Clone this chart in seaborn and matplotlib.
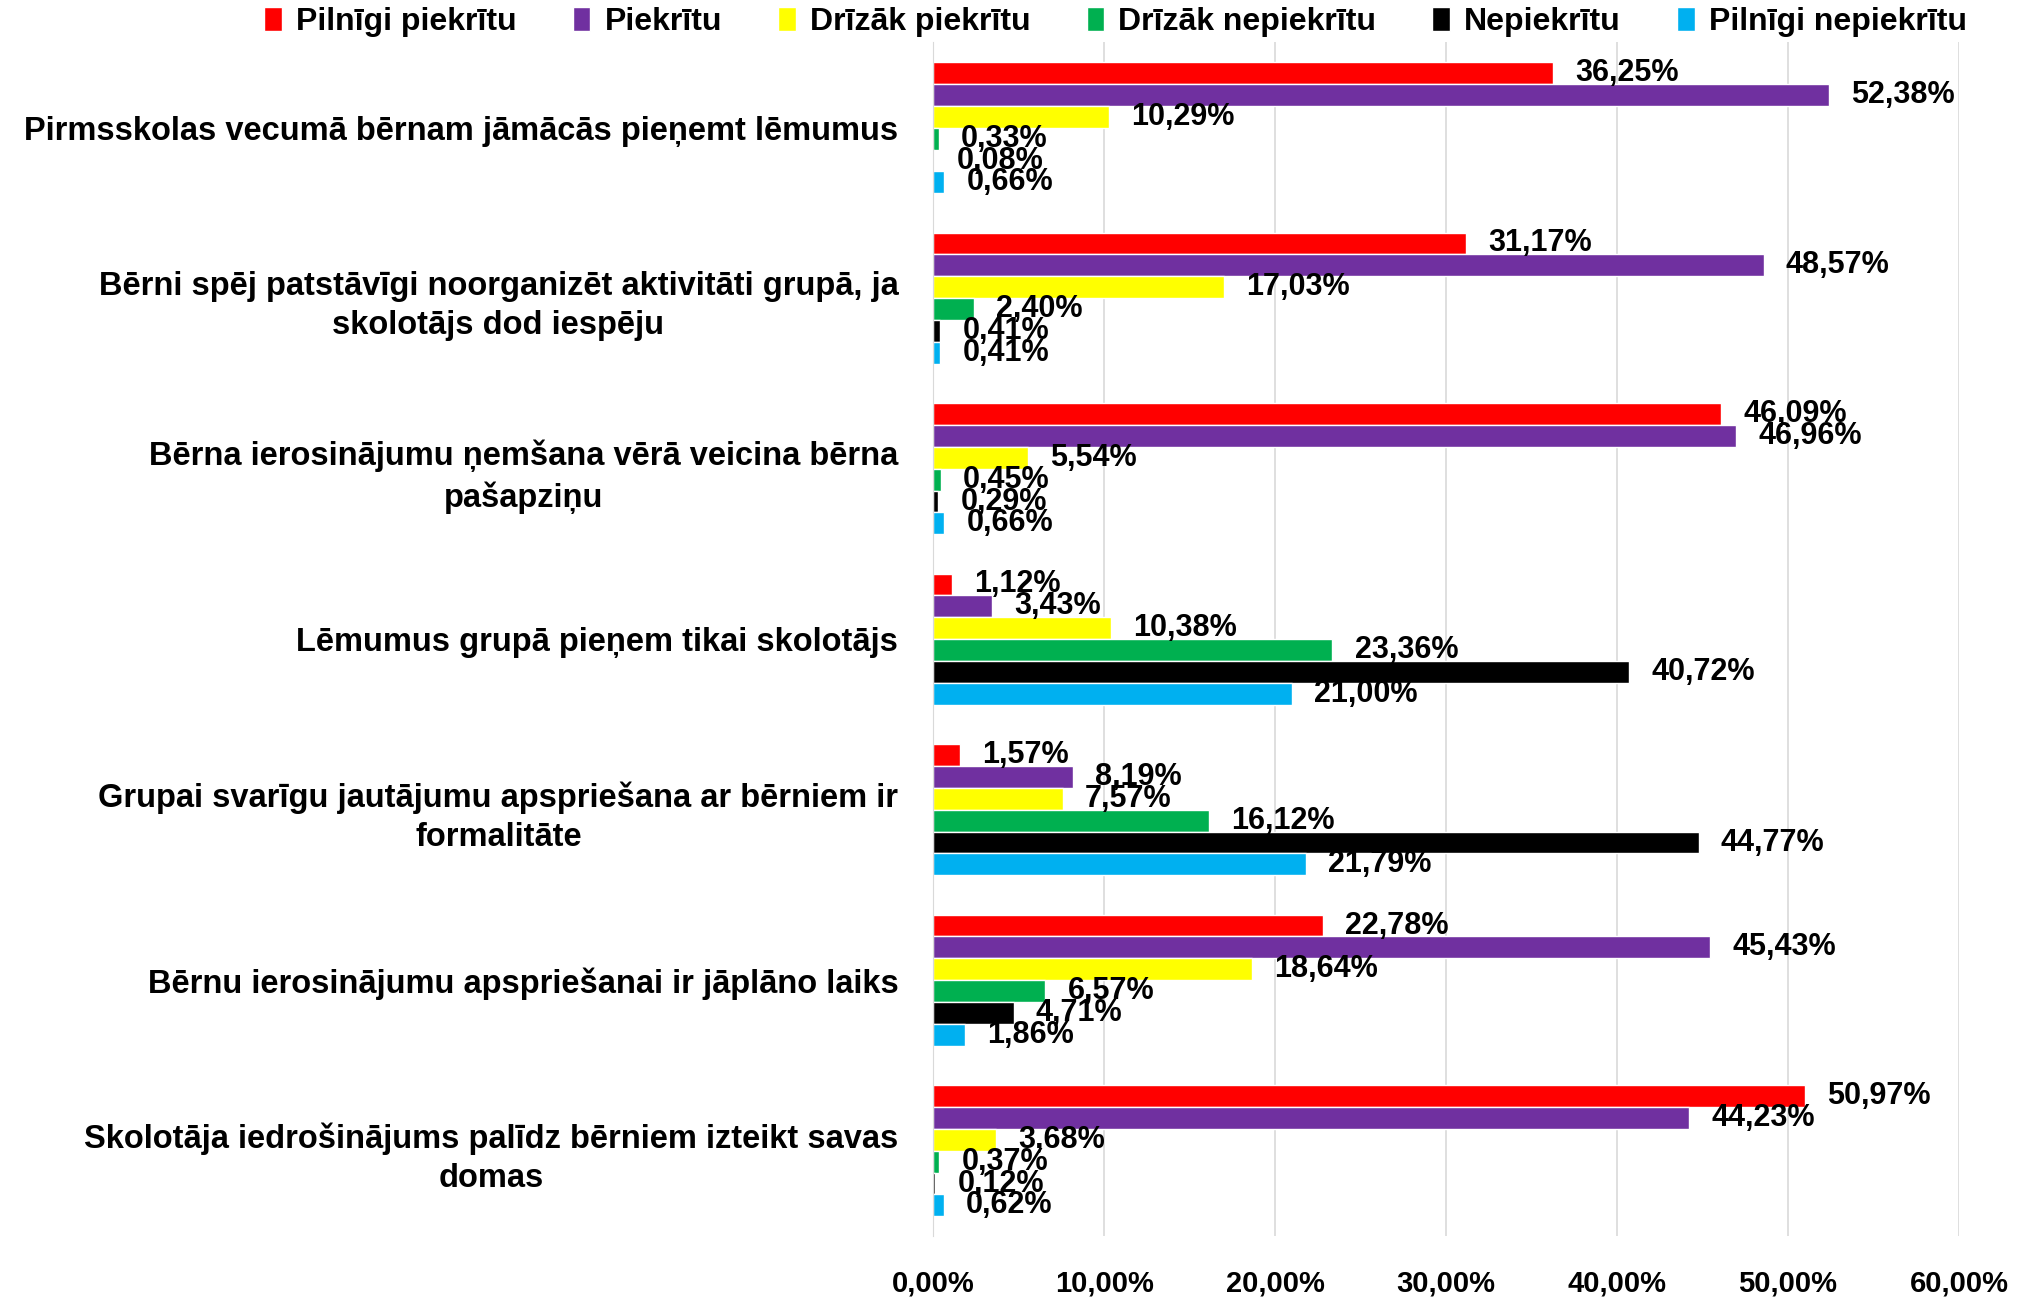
import pandas as pd
import seaborn as sns
import matplotlib.pyplot as plt

# statements (y axis)
statements = [
    "Pirmsskolas vecumā bērnam jāmācās pieņemt lēmumus",
    "Bērni spēj patstāvīgi noorganizēt aktivitāti grupā, ja\nskolotājs dod iespēju",
    "Bērna ierosinājumu ņemšana vērā veicina bērna\npašapziņu",
    "Lēmumus grupā pieņem tikai skolotājs",
    "Grupai svarīgu jautājumu apspriešana ar bērniem ir\nformalitāte",
    "Bērnu ierosinājumu apspriešanai ir jāplāno laiks",
    "Skolotāja iedrošinājums palīdz bērniem izteikt savas\ndomas",
]

answers = ["Pilnīgi piekrītu", "Piekrītu", "Drīzāk piekrītu",
           "Drīzāk nepiekrītu", "Nepiekrītu", "Pilnīgi nepiekrītu"]
colors = ["#FF0000", "#7030A0", "#FFFF00", "#00B050", "#000000", "#00B0F0"]

# percentages, one list per answer, in statement order
pilnigi_piekritu = [36.25, 31.17, 46.09, 1.12, 1.57, 22.78, 50.97]
piekritu = [52.38, 48.57, 46.96, 3.43, 8.19, 45.43, 44.23]
drizak_piekritu = [10.29, 17.03, 5.54, 10.38, 7.57, 18.64, 3.68]
drizak_nepiekritu = [0.33, 2.40, 0.45, 23.36, 16.12, 6.57, 0.37]
nepiekritu = [0.08, 0.41, 0.29, 40.72, 44.77, 4.71, 0.12]
pilnigi_nepiekritu = [0.66, 0.41, 0.66, 21.00, 21.79, 1.86, 0.62]

series = [pilnigi_piekritu, piekritu, drizak_piekritu,
          drizak_nepiekritu, nepiekritu, pilnigi_nepiekritu]

rows = []
for ans, vals in zip(answers, series):
    for st, v in zip(statements, vals):
        rows.append({"statement": st, "answer": ans, "value": v})
df = pd.DataFrame(rows)

sns.set_style("white")
plt.rcParams["font.family"] = ["Liberation Sans", "DejaVu Sans"]
plt.rcParams["text.color"] = "black"

fig = plt.figure(figsize=(20.21, 12.98), dpi=100)
ax = fig.add_axes([0.4617, 0.0478, 0.5076, 0.9195])

sns.barplot(data=df, y="statement", x="value", hue="answer",
            hue_order=answers, order=statements, palette=colors,
            orient="h", width=0.77, saturation=1, ax=ax, legend=True)

# data labels
for cont in ax.containers:
    labels = [f"{w:.2f}%".replace(".", ",") for w in cont.datavalues]
    ax.bar_label(cont, labels=labels, padding=16, fontsize=22,
                 fontweight="bold", color="black")

ax.set_xlim(0, 60)
ax.set_xticks(range(0, 61, 10))
ax.set_xticklabels([f"{t},00%" for t in range(0, 61, 10)],
                   fontsize=21, fontweight="bold")
ax.tick_params(axis="y", labelsize=23.5, length=0, pad=25, labelcolor="black")
ax.tick_params(axis="x", length=0, pad=24, labelcolor="black")
for lbl in ax.get_yticklabels():
    lbl.set_fontweight("bold")
    lbl.set_multialignment("center")
    lbl.set_linespacing(1.35)
ax.set_xlabel("")
ax.set_ylabel("")
ax.grid(axis="x", color="#D9D9D9", linewidth=1.2)
ax.set_axisbelow(True)
for s in ["top", "right", "bottom"]:
    ax.spines[s].set_visible(False)
ax.spines["left"].set_color("#D9D9D9")

handles, labs = ax.get_legend_handles_labels()
ax.legend_.remove()
fig.legend(handles, labs, loc="center", bbox_to_anchor=(0.552, 0.983),
           ncol=6, frameon=False, handlelength=0.55,
           handleheight=0.8, handletextpad=0.45, columnspacing=1.75,
           prop={"weight": "bold", "size": 23})

fig.savefig("out.png", dpi=100)
